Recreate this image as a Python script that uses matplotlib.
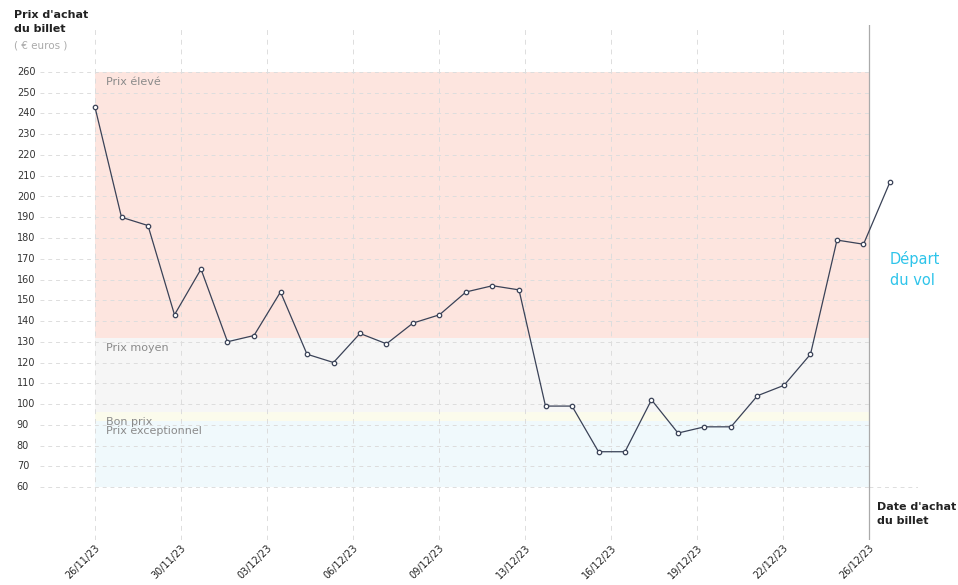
import matplotlib.pyplot as plt

dates = ["26/11/23", "30/11/23", "03/12/23", "06/12/23", "09/12/23",
         "13/12/23", "16/12/23", "19/12/23", "22/12/23", "26/12/23"]
prices = [243, 190, 186, 143, 165, 130, 133, 154, 124, 120, 134, 129, 139, 143,
          154, 157, 155, 99, 99, 77, 77, 102, 86, 89, 89, 104, 109, 124, 179, 177, 207]
bands = [(132, 260, "#fde5df", "Prix élevé"), (96, 132, "#f6f6f6", "Prix moyen"),
         (92, 96, "#fbfbec", "Bon prix"), (60, 92, "#f0f9fc", "Prix exceptionnel")]
yticks = list(range(60, 261, 10))

W, H = 958, 585
fig = plt.figure(figsize=(W / 100, H / 100), dpi=100)
ax = fig.add_axes([40 / W, 1 - 540 / H, 878 / W, 515 / H])
ax.set_xlim(-55 / 26.5, 30 + 28 / 26.5)
ax.set_ylim(60 - 53 / 2.075, 260 + 47 / 2.075)
for s in ax.spines.values():
    s.set_visible(False)
ax.set_xticks([])
ax.set_yticks([])

xend = (869 - 95) / 26.5
for lo, hi, c, lab in bands:
    ax.fill_between([0, xend], lo, hi, color=c, lw=0, zorder=0)
for lo, hi, c, lab in bands:
    ax.text(0.4, hi - 2.5, lab, fontsize=8, color="#8a8a8a", va="top", zorder=3)

for y in yticks:
    ax.plot([-2.08, xend], [y, y], ls=(0, (4, 4)), color="#dddddd", lw=0.7, zorder=1)
    ax.text(-2.95, y, str(y), fontsize=7, color="#333", va="center", clip_on=False)
ax.plot([xend, 31.06], [60, 60], ls=(0, (4, 4)), color="#dddddd", lw=0.7)

tickpos = [i * xend / 9 for i in range(len(dates))]
for p, d in zip(tickpos, dates):
    ax.axvline(p, ls=(0, (5, 5)), color="#dddddd", lw=0.7, zorder=1)
    ax.text(p, 33, d, rotation=45, ha="right", va="top", fontsize=7, color="#222",
            rotation_mode="anchor", clip_on=False)
ax.axvline(xend, color="#aaaaaa", lw=0.9, zorder=2)

ax.plot(range(len(prices)), prices, color="#3a4257", lw=0.9, marker="o", ms=3.2,
        mfc="white", mec="#3a4257", mew=0.9, zorder=4)

ax.text(30.0, 165, "Départ\ndu vol", fontsize=10.5, color="#2ec4ea", va="center",
        linespacing=1.5)
ax.text(xend + 0.3, 53, "Date d'achat\ndu billet", fontsize=8, color="#222",
        fontweight="bold", va="top", linespacing=1.5)
fig.text(14 / W, 1 - 10 / H, "Prix d'achat\ndu billet", fontsize=8, color="#222",
         fontweight="bold", va="top", linespacing=1.5)
fig.text(14 / W, 1 - 40 / H, "( € euros )", fontsize=7.5, color="#aaaaaa", va="top")

fig.savefig("out.png", dpi=100)
